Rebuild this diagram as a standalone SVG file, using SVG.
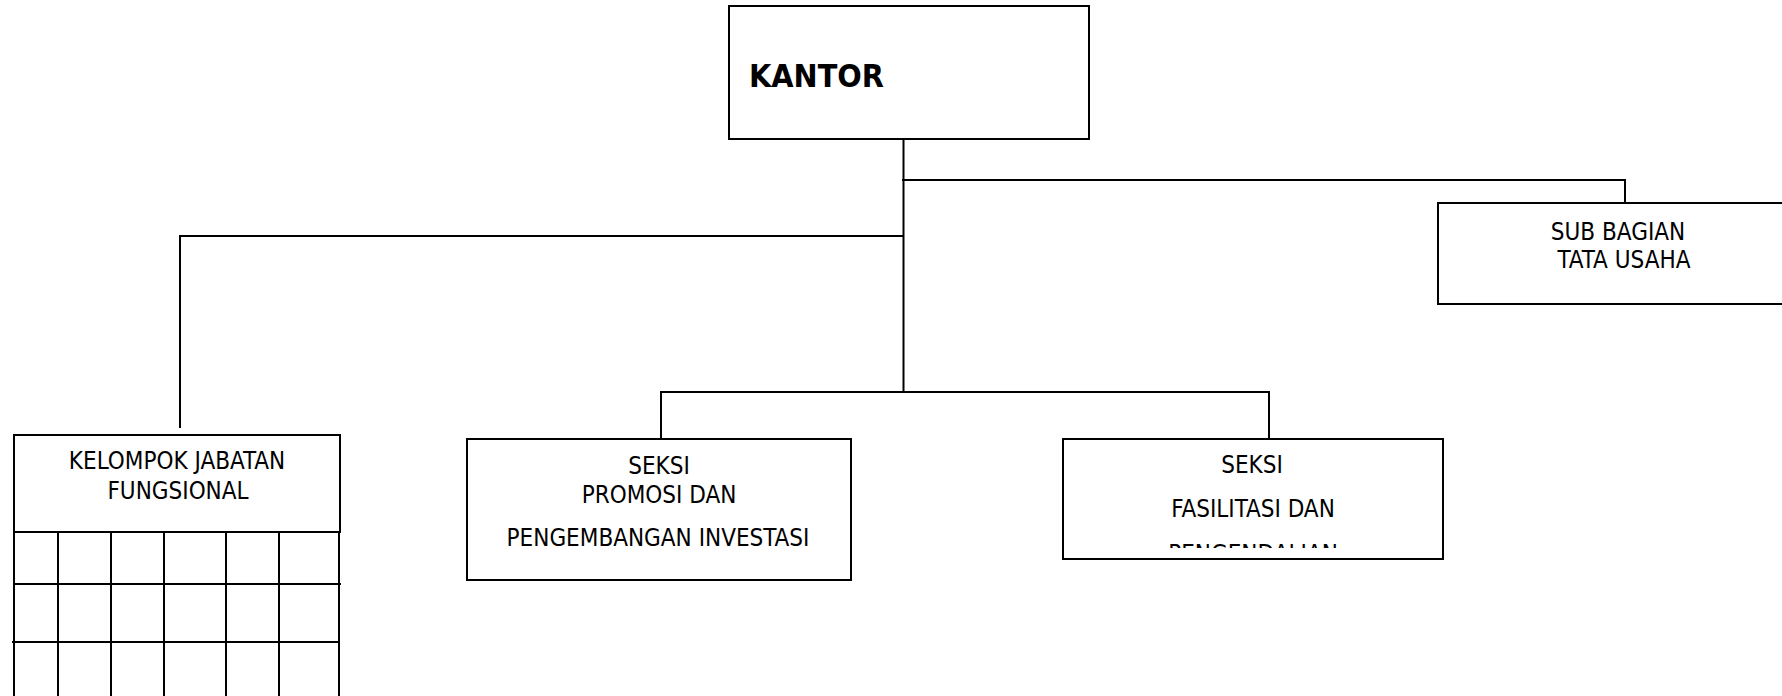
<svg xmlns="http://www.w3.org/2000/svg" width="1782" height="696" viewBox="0 0 1782 696">
<style>
  .box { fill: #fff; stroke: #000; stroke-width: 2; }
  .ln { fill: none; stroke: #000; stroke-width: 2; }
  .t { font-family: "DejaVu Sans Condensed", "DejaVu Sans", sans-serif; font-stretch: condensed; font-size: 24px; fill: #000; text-anchor: middle; }
  .tb { font-family: "DejaVu Sans Condensed", "DejaVu Sans", sans-serif; font-stretch: condensed; font-weight: bold; font-size: 32px; fill: #000; }
</style>
<defs>
  <clipPath id="clipFas"><rect x="1063" y="439" width="380" height="109"/></clipPath>
</defs>
<rect width="1782" height="696" fill="#fff"/>
<g id="connectors">
  <line class="ln" x1="903.5" y1="139" x2="903.5" y2="391"/>
  <polyline class="ln" points="902,180 1625,180 1625,203"/>
  <polyline class="ln" points="903.5,236 180,236 180,428"/>
  <polyline class="ln" points="661,439 661,392 1269,392 1269,439"/>
</g>
<g id="kantor">
  <rect class="box" x="729" y="6" width="360" height="133"/>
  <text class="tb" x="749" y="87">KANTOR</text>
</g>
<g id="sub-bagian">
  <rect class="box" x="1438" y="203" width="360" height="101"/>
  <text class="t" x="1618" y="240">SUB BAGIAN</text>
  <text class="t" x="1624" y="268">TATA USAHA</text>
</g>
<g id="kelompok">
  <rect class="box" x="14" y="435" width="326" height="97"/>
  <text class="t" x="177" y="469">KELOMPOK JABATAN</text>
  <text class="t" x="178" y="499">FUNGSIONAL</text>
  <g class="ln">
    <line x1="14" y1="532" x2="14" y2="700"/>
    <line x1="58" y1="532" x2="58" y2="700"/>
    <line x1="111" y1="532" x2="111" y2="700"/>
    <line x1="164" y1="532" x2="164" y2="700"/>
    <line x1="226" y1="532" x2="226" y2="700"/>
    <line x1="279" y1="532" x2="279" y2="700"/>
    <line x1="339" y1="532" x2="339" y2="700"/>
    <line x1="14" y1="584" x2="341" y2="584"/>
    <line x1="12" y1="642" x2="340" y2="642"/>
  </g>
</g>
<g id="seksi-promosi">
  <rect class="box" x="467" y="439" width="384" height="141"/>
  <text class="t" x="659" y="474">SEKSI</text>
  <text class="t" x="659" y="503">PROMOSI DAN</text>
  <text class="t" x="658" y="546">PENGEMBANGAN INVESTASI</text>
</g>
<g id="seksi-fasilitasi">
  <rect class="box" x="1063" y="439" width="380" height="120"/>
  <text class="t" x="1252" y="473">SEKSI</text>
  <text class="t" x="1253" y="517">FASILITASI DAN</text>
  <text class="t" x="1253" y="562" clip-path="url(#clipFas)">PENGENDALIAN</text>
</g>
</svg>
